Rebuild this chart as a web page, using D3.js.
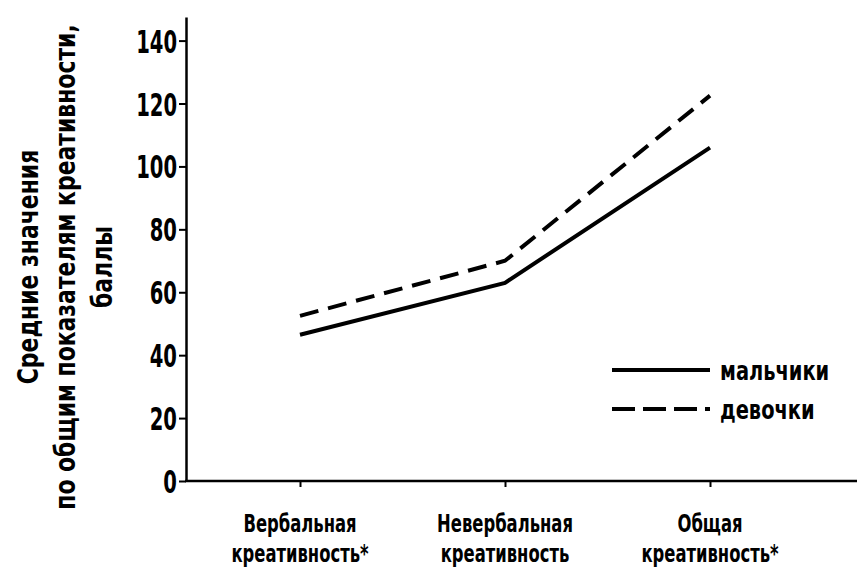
<!DOCTYPE html>
<html><head><meta charset="utf-8">
<script src="https://cdn.jsdelivr.net/npm/d3@7"></script>
<style>
html,body{margin:0;padding:0;background:#fff;}
text{font-family:"Liberation Sans Narrow","DejaVu Sans Condensed","Arial Narrow",sans-serif;fill:#000;font-weight:bold;}
</style></head>
<body><svg id="c" width="859" height="569"></svg>
<script>
const categories = ["Вербальная креативность*", "Невербальная креативность", "Общая креативность*"];
const categoryLines = [["Вербальная","креативность*"],["Невербальная","креативность"],["Общая","креативность*"]];
const boys = [46.5, 63, 106];
const girls = [52.5, 70, 122.5];
const seriesNames = ["мальчики", "девочки"];
const yTicks = [0, 20, 40, 60, 80, 100, 120, 140];
const yTitle = ["Средние значения", "по общим показателям креативности,", "баллы"];

const svg = d3.select("#c");
const y = d3.scaleLinear().domain([0, 147.5]).range([481, 17]);
const x = d3.scalePoint().domain(categories).range([300, 710]);
const axisX = 186, rightEdge = 857;

// y axis
const tickSX = 0.68;
const gy = svg.append("g").attr("transform", `translate(${axisX},0)`)
  .call(d3.axisLeft(y).tickValues(yTicks).tickSize(7).tickPadding(3).tickSizeOuter(0));
gy.select(".domain").attr("stroke", "#000").attr("stroke-width", 2.5);
gy.selectAll(".tick line").attr("stroke", "#000").attr("stroke-width", 2);
gy.selectAll(".tick text").style("font-size", "32px").attr("dy", "0.36em")
  .attr("x", -9 / tickSX).attr("transform", `scale(${tickSX},1)`);

// x axis
const gx = svg.append("g").attr("transform", `translate(0,${y(0)})`)
  .call(d3.axisBottom(x).tickSize(6).tickSizeOuter(0).tickFormat(""));
gx.select(".domain").remove();
gx.selectAll(".tick line").attr("stroke", "#000").attr("stroke-width", 2);
svg.append("line").attr("x1", axisX - 1).attr("x2", rightEdge).attr("y1", y(0)).attr("y2", y(0))
  .attr("stroke", "#000").attr("stroke-width", 2.5);

categories.forEach((c, i) => {
  const g = svg.append("g").attr("transform", `translate(${x(c)},${y(0) + 51}) scale(0.76,1)`);
  const t = g.append("text").attr("text-anchor", "middle").style("font-size", "24px");
  categoryLines[i].forEach((s, j) => {
    t.append("tspan").attr("x", 0).attr("y", j * 30).text(s);
  });
});

// y title
const tg = svg.append("g").attr("transform", "translate(0,267) rotate(-90) scale(0.87,1)");
const tt = tg.append("text").attr("text-anchor", "middle").style("font-size", "28px");
yTitle.forEach((s, j) => {
  tt.append("tspan").attr("x", 0).attr("y", 38 + j * 37).text(s);
});

// lines
const line = d3.line().x((d, i) => x(categories[i])).y(d => y(d));
svg.append("path").datum(boys).attr("d", line).attr("fill", "none")
  .attr("stroke", "#000").attr("stroke-width", 4);
svg.append("path").datum(girls).attr("d", line).attr("fill", "none")
  .attr("stroke", "#000").attr("stroke-width", 4).attr("stroke-dasharray", "19,10");

// legend
const leg = [{name: seriesNames[0], dash: null, y: 370}, {name: seriesNames[1], dash: "23,8", y: 409}];
leg.forEach(l => {
  svg.append("line").attr("x1", 612).attr("x2", 710).attr("y1", l.y).attr("y2", l.y)
    .attr("stroke", "#000").attr("stroke-width", 4).attr("stroke-dasharray", l.dash);
  svg.append("g").attr("transform", `translate(720,${l.y}) scale(0.8,1)`)
    .append("text").attr("dy", "0.36em").style("font-size", "27px").text(l.name);
});
</script></body></html>
